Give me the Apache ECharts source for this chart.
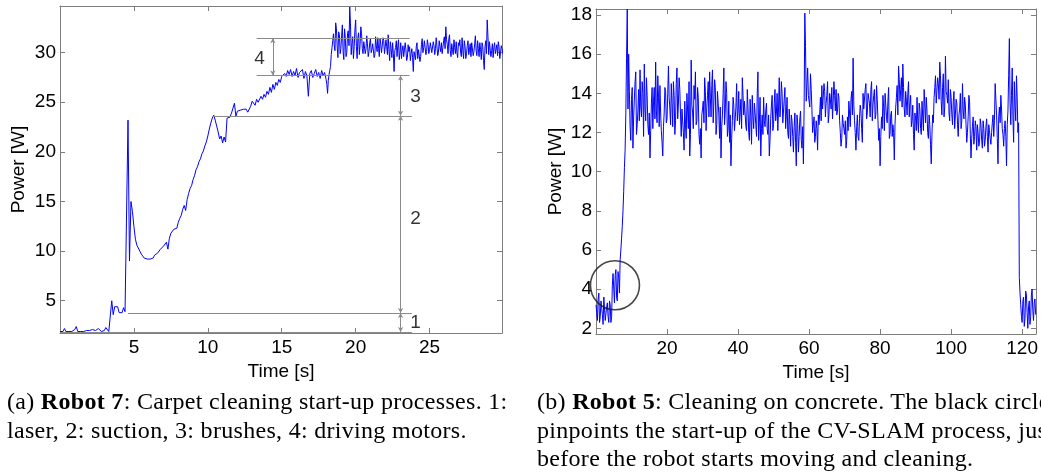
<!DOCTYPE html>
<html><head><meta charset="utf-8">
<script src="https://cdn.jsdelivr.net/npm/echarts@6/dist/echarts.min.js"></script>
<style>
html,body{margin:0;padding:0;background:#fff;overflow:hidden;width:1041px;height:475px;}
#chart{position:absolute;left:0;top:0;width:1041px;height:475px;}
.cap{position:absolute;font-family:"Liberation Serif",serif;font-size:24px;letter-spacing:0.3px;line-height:28.5px;color:#000;white-space:nowrap;}
</style></head><body>
<div id="chart"></div>
<div class="cap" style="left:7px;top:387px;">(a) <b>Robot 7</b>: Carpet cleaning start-up processes. 1:<br>laser, 2: suction, 3: brushes, 4: driving motors.</div>
<div class="cap" style="left:537px;top:387px;">(b) <b>Robot 5</b>: Cleaning on concrete. The black circle<br>pinpoints the start-up of the CV-SLAM process, just<br>before the robot starts moving and cleaning.</div>
<script>
// ---- Robot 7 (left): power [W], one sample every 0.1 s from t = 0 ----
const robot7Dt = 0.1;
const robot7Power = [
1.9,2.0,1.9,2.2,1.9,2.0,1.9,2.1,1.9,2.0,
2.1,2.4,1.9,2.0,1.9,2.1,1.9,1.9,2.0,1.9,
2.0,1.9,2.1,1.9,2.0,1.9,2.2,2.4,1.9,2.1,
2.0,2.3,2.5,1.9,2.0,5.0,3.6,4.4,4.2,4.4,
3.8,4.0,3.8,4.3,3.9,4.0,23.2,9.0,15.0,14.0,
12.5,11.2,10.6,10.4,10.0,9.7,9.6,9.3,9.4,9.2,
9.3,9.2,9.4,9.3,9.6,9.5,9.8,9.9,10.2,10.0,
10.5,10.6,10.9,10.2,11.3,11.8,11.6,12.2,12.4,12.3,
12.9,13.3,13.6,14.2,14.6,14.1,15.2,15.8,16.3,16.6,
17.2,17.6,18.2,18.5,19.0,19.3,19.8,20.1,20.6,21.0,
21.6,22.3,22.9,23.4,23.7,23.2,22.6,22.0,21.3,21.6,
20.9,21.5,21.0,23.4,23.6,23.5,23.9,23.7,24.9,23.6,
24.1,23.9,24.2,24.0,24.3,24.1,24.3,24.0,23.8,24.6,
25.1,24.9,24.7,25.3,25.0,25.2,25.6,25.3,25.8,25.5,
26.1,25.8,26.5,26.0,26.8,26.3,27.0,26.7,27.3,27.0,
27.6,27.4,27.9,27.6,28.2,27.8,28.3,27.6,28.1,27.7,
28.4,27.5,28.0,27.8,28.3,27.4,28.1,27.7,25.6,27.9,
28.2,27.5,27.9,28.3,27.6,28.0,27.4,28.2,27.7,28.0,
27.3,25.9,27.8,28.6,30.5,31.9,30.2,32.4,29.5,31.8,
30.4,32.8,29.3,31.5,30.0,32.2,34.6,29.8,31.6,30.6,
33.3,29.4,32.0,30.8,31.9,29.9,31.2,30.4,30.9,30.1,
31.4,30.3,31.0,29.8,30.7,31.5,29.6,30.8,30.2,31.2,
29.7,30.6,31.8,29.2,30.4,31.0,28.1,30.5,29.6,31.3,
30.0,29.4,30.7,29.8,30.3,29.5,30.1,29.2,30.4,28.1,
29.9,30.6,29.4,30.2,29.6,31.4,30.5,31.0,30.1,30.8,
30.3,31.2,29.9,30.7,30.4,31.3,30.0,30.6,31.0,30.5,
31.6,32.6,30.8,31.4,30.2,30.9,29.8,30.5,31.1,29.5,
30.7,30.0,31.5,29.4,30.6,29.9,31.2,30.3,29.6,30.8,
30.1,31.7,29.7,30.4,31.0,29.3,30.6,28.3,31.2,33.3,
29.8,30.9,30.2,29.5,31.0,30.1,29.7,30.6,30.0,30.4
];
// extra in-between samples of the noisy part (every 0.1 s from t = 18.05)
const robot7MidStart = 18.05;
const robot7PowerMid = [
26.8,27.2,28.2,29.8,31.2,30.8,33.0,30.6,32.1,29.9,
31.7,30.1,32.4,29.6,31.9,30.7,32.9,30.9,29.4,32.3,
30.6,31.5,29.8,32.6,30.4,31.1,29.9,31.7,29.6,31.0,
30.0,30.9,29.5,31.6,30.1,30.4,31.4,30.0,31.5,29.9,
31.3,29.8,30.3,31.1,29.5,29.9,30.2,31.2,30.7,29.3,
31.0,30.2,29.6,31.0,29.2,30.8,30.6,29.9,29.5,30.1,
29.3,31.0,30.3,29.1,30.8,30.0,31.2,29.8,31.3,29.9,
31.0,30.0,31.1,29.8,31.5,29.7,31.2,30.1,29.9,31.2,
30.4,31.3,29.9,31.8,29.6,30.3,31.3,29.9,30.0,31.0,
31.3,29.6,30.2,31.2,29.4,30.7,29.8,30.9,31.0,29.7,
30.9,30.2,31.2,29.6,30.3,31.0,29.2,30.6,29.9,31.6,
31.1,29.6,30.9,30.5,29.9,30.8,31.1,29.4,30.7,29.9
];
const robot7XTicks = [5, 10, 15, 20, 25];
const robot7YTicks = [5, 10, 15, 20, 25, 30];
// annotation levels: horizontal [t1, P, t2, P]
const robot7Levels = [
  [0, 1.85, 23.8, 1.85],
  [4.6, 3.76, 23.8, 3.76],
  [10.35, 23.63, 23.8, 23.63],
  [13.3, 27.69, 23.65, 27.69],
  [13.3, 31.45, 23.65, 31.45]
];
// annotation arrows: [t, P from, P to]
const robot7Arrows = [
  [23.04, 1.85, 3.76],
  [23.04, 3.76, 23.63],
  [23.04, 23.63, 27.69],
  [14.4, 27.69, 31.45]
];
// annotation numbers: [t, P, text]
const robot7Labels = [
  [13.5, 29.4, '4'],
  [24.05, 25.6, '3'],
  [24.05, 13.25, '2'],
  [24.05, 2.8, '1']
];

// ---- Robot 5 (right): power [W], one sample every 0.4 s from t = 0 ----
const robot5Dt = 0.4;
const robot5Power = [
3.2,2.4,3.8,2.6,3.3,2.2,3.5,2.5,3.3,2.3,
3.2,2.6,4.8,3.3,5.0,3.4,4.6,5.5,6.6,8.0,
10.2,13.0,18.3,16.0,12.3,13.7,11.2,12.9,15.1,12.4,
14.2,15.2,12.8,14.0,15.5,12.6,13.9,11.9,10.7,13.5,
12.2,14.3,15.6,12.5,13.8,14.4,12.1,10.8,13.0,14.1,
12.7,15.4,13.2,14.5,12.3,13.9,12.6,15.3,13.4,14.2,
11.8,13.1,11.1,12.4,14.0,12.2,10.8,15.7,13.0,14.4,
15.1,12.6,13.8,11.4,10.7,13.2,12.5,14.1,13.3,14.6,
15.1,12.8,15.2,13.6,14.3,12.4,13.5,11.7,10.7,12.9,
15.3,13.1,14.0,12.2,11.5,10.3,12.6,13.4,12.0,14.5,
13.1,12.4,13.7,14.8,12.9,13.6,12.1,13.3,11.6,12.8,
13.9,12.2,13.0,11.8,15.1,12.5,10.8,12.9,13.8,12.3,
13.5,11.9,10.8,12.7,13.9,12.4,14.2,13.0,12.1,14.8,
13.4,14.0,13.1,14.3,12.9,12.0,13.2,11.3,12.6,11.0,
13.0,10.3,12.4,11.8,13.1,11.2,10.4,18.1,13.6,15.3,
14.0,15.0,13.2,12.1,11.5,12.6,11.1,12.4,13.8,14.4,
13.2,14.1,13.5,14.6,12.9,13.7,14.3,12.8,13.9,14.2,
13.1,13.8,12.0,11.7,12.5,11.9,11.2,12.8,13.6,12.3,
14.1,15.8,12.6,11.1,12.9,11.6,13.4,12.2,14.0,13.3,
14.5,13.0,13.9,12.8,14.6,13.4,14.2,12.9,13.7,11.6,
10.3,12.8,13.9,12.1,13.4,12.5,14.3,11.9,13.1,12.4,
10.6,13.3,14.4,15.4,13.6,14.8,15.5,13.2,14.1,12.9,
14.6,13.5,12.3,13.4,11.1,12.7,13.8,12.0,13.2,11.9,
12.8,14.2,12.5,13.1,11.7,12.4,10.4,12.9,13.8,14.9,
13.4,14.5,15.6,13.6,14.3,12.8,15.9,13.9,14.7,12.6,
13.8,12.4,14.1,12.9,13.5,11.8,13.2,12.2,14.5,12.7,
13.4,11.5,12.8,13.6,10.7,12.3,11.4,12.6,11.1,12.0,
11.5,12.4,11.2,12.2,11.6,12.7,11.0,12.1,11.4,12.5,
11.8,14.5,12.9,10.4,13.3,13.9,12.2,11.3,12.6,10.3,
13.1,16.8,12.4,15.3,11.5,13.4,14.9,12.0,4.6,3.2,
2.3,3.6,2.5,3.7,2.0,3.4,2.6,4.0,2.4,3.5
];
// in-between samples (every 0.4 s from t = 0.2)
const robot5MidStart = 0.2;
const robot5PowerMid = [
2.8,3.5,2.3,3.4,2.7,3.6,2.4,3.1,2.6,3.4,
2.3,4.2,4.0,4.7,3.6,4.9,3.8,6.0,7.2,9.0,
11.1,15.8,13.2,14.1,11.6,14.3,12.8,14.6,11.9,13.1,
12.6,13.3,14.6,11.8,13.2,14.8,12.4,13.0,12.1,14.3,
13.6,12.7,13.1,14.9,12.3,13.0,11.5,12.3,14.3,12.5,
14.0,13.8,12.4,13.5,14.6,11.9,14.5,12.7,14.8,12.9,
13.2,12.0,13.6,11.7,13.1,14.6,11.9,13.4,12.2,13.7,
12.4,14.3,11.9,12.2,12.9,13.6,14.8,12.1,13.9,12.8,
13.8,14.4,12.5,14.7,11.9,14.1,12.9,13.3,12.3,14.0,
12.4,14.6,11.8,13.6,12.9,11.7,13.8,12.1,13.3,12.6,
14.1,13.0,12.2,13.9,13.6,12.3,14.2,12.0,13.7,11.4,
12.8,13.5,12.4,14.0,11.6,13.8,12.2,11.9,12.6,13.1,
12.2,12.9,11.6,13.4,12.1,13.5,12.6,14.0,13.3,12.8,
14.6,12.5,13.7,12.2,13.8,11.7,12.4,12.9,11.8,12.3,
11.5,12.9,11.0,12.7,11.6,12.3,13.2,16.4,14.5,13.9,
13.3,14.2,12.0,12.8,11.8,12.2,12.9,13.0,12.6,13.2,
14.5,12.8,13.9,12.5,14.0,13.2,12.7,14.6,13.1,12.9,
14.0,12.6,11.3,12.9,12.2,12.6,11.6,12.1,13.0,13.7,
12.9,13.4,12.0,12.3,11.8,12.7,13.1,11.5,13.2,14.2,
12.7,14.0,13.5,14.2,12.6,13.9,12.7,14.4,12.6,12.2,
11.8,12.2,13.3,14.0,12.8,13.6,11.7,12.9,11.8,12.0,
12.4,13.8,12.9,14.7,14.2,13.3,14.3,12.8,13.6,14.0,
12.8,13.9,12.6,11.9,13.0,12.1,12.6,13.5,12.2,13.6,
12.1,13.4,13.8,12.0,12.9,11.4,11.9,12.5,14.3,13.5,
14.8,13.7,14.9,12.9,15.0,13.3,14.1,13.5,13.0,14.2,
12.9,13.6,12.2,13.7,12.4,12.9,14.0,12.6,13.1,13.8,
12.4,12.0,13.9,11.9,11.7,12.8,11.8,12.3,12.4,11.3,
12.7,11.6,12.6,11.3,12.3,11.8,12.4,11.7,12.0,12.9,
12.6,13.7,11.7,12.8,12.5,13.2,11.9,12.2,11.8,12.4,
14.9,13.5,13.9,12.8,14.6,12.6,13.8,12.5,3.8,2.6,
3.4,2.1,3.9,2.8,3.1,2.2,3.7,2.9,3.3,2.7
];
const robot5XTicks = [20, 40, 60, 80, 100, 120];
const robot5YTicks = [2, 4, 6, 8, 10, 12, 14, 16, 18];
const robot5Circle = [[5.34, 4.2]];

// ---- build sorted sample lists ----
function samples(main, dt, mid, midStart) {
  const pts = main.map((v, i) => [i * dt, v]);
  mid.forEach((v, i) => pts.push([midStart + i * dt, v]));
  pts.sort((a, b) => a[0] - b[0]);
  return pts;
}
const robot7Data = samples(robot7Power, robot7Dt, robot7PowerMid, robot7MidStart);
const robot5Data = samples(robot5Power, robot5Dt, robot5PowerMid, robot5MidStart);

// ---- styling ----
const axisGray = '#7d7d7d';
const fontFam = '"Liberation Sans", Arial, sans-serif';

function xAxisDef(gridIndex, min, max, ticks, top, name) {
  return {
    type: 'value', gridIndex, min, max,
    position: top ? 'top' : 'bottom',
    axisLine: { show: true, onZero: false, lineStyle: { color: axisGray, width: 1 } },
    axisTick: { show: true, inside: true, length: 5, customValues: ticks, lineStyle: { color: axisGray } },
    axisLabel: top ? { show: false } : { show: true, customValues: ticks, color: '#000', fontSize: 19, fontFamily: fontFam, margin: 5 },
    splitLine: { show: false },
    name: top ? '' : name,
    nameLocation: 'middle', nameGap: 23,
    nameTextStyle: { color: '#000', fontSize: 19, fontFamily: fontFam }
  };
}
function yAxisDef(gridIndex, min, max, ticks, right, name, gap) {
  return {
    type: 'value', gridIndex, min, max,
    position: right ? 'right' : 'left',
    axisLine: { show: true, onZero: false, lineStyle: { color: axisGray, width: 1 } },
    axisTick: { show: true, inside: true, length: 5, customValues: ticks, lineStyle: { color: axisGray } },
    axisLabel: right ? { show: false } : { show: true, customValues: ticks, color: '#000', fontSize: 19, fontFamily: fontFam, margin: 4 },
    splitLine: { show: false },
    name: right ? '' : name,
    nameLocation: 'middle', nameGap: gap, nameRotate: 90,
    nameTextStyle: { color: '#000', fontSize: 19, fontFamily: fontFam }
  };
}

const chart = echarts.init(document.getElementById('chart'), null, { renderer: 'canvas' });
const markData = robot7Levels.map(a => [{ coord: [a[0], a[1]] }, { coord: [a[2], a[3]] }])
  .concat(robot7Arrows.map(a => [{ coord: [a[0], a[1]], symbol: 'arrow' }, { coord: [a[0], a[2]], symbol: 'arrow' }]));

chart.setOption({
  animation: false,
  backgroundColor: '#fff',
  grid: [
    { left: 60, top: 6, width: 442, height: 327 },
    { left: 596, top: 9, width: 441, height: 325 }
  ],
  xAxis: [
    xAxisDef(0, 0, 29.9, robot7XTicks, false, 'Time [s]'),
    xAxisDef(0, 0, 29.9, robot7XTicks, true, ''),
    xAxisDef(1, 0, 123.9, robot5XTicks, false, 'Time [s]'),
    xAxisDef(1, 0, 123.9, robot5XTicks, true, '')
  ],
  yAxis: [
    yAxisDef(0, 1.75, 34.7, robot7YTicks, false, 'Power [W]', 32),
    yAxisDef(0, 1.75, 34.7, robot7YTicks, true, '', 0),
    yAxisDef(1, 1.71, 18.31, robot5YTicks, false, 'Power [W]', 31),
    yAxisDef(1, 1.71, 18.31, robot5YTicks, true, '', 0)
  ],
  series: [
    {
      type: 'line', xAxisIndex: 0, yAxisIndex: 0,
      data: robot7Data,
      showSymbol: false, symbol: 'none',
      lineStyle: { color: '#0000ff', width: 1 },
      z: 3,
      markLine: {
        silent: true, animation: false,
        symbol: ['none', 'none'], symbolSize: [4, 5],
        lineStyle: { color: '#8a8a8a', width: 1, type: 'solid' },
        label: { show: false },
        emphasis: { disabled: true },
        data: markData
      }
    },
    {
      type: 'scatter', xAxisIndex: 0, yAxisIndex: 0,
      data: robot7Labels, symbolSize: 0, silent: true,
      label: { show: true, position: 'inside', formatter: p => p.data[2], color: '#000', fontSize: 19, fontFamily: fontFam }
    },
    {
      type: 'line', xAxisIndex: 2, yAxisIndex: 2,
      data: robot5Data,
      showSymbol: false, symbol: 'none',
      lineStyle: { color: '#0000ff', width: 1 },
      z: 3
    },
    {
      type: 'scatter', xAxisIndex: 2, yAxisIndex: 2,
      data: robot5Circle, symbol: 'circle', symbolSize: 49, silent: true, z: 4,
      itemStyle: { color: 'rgba(0,0,0,0)', borderColor: '#1a1a1a', borderWidth: 1.6 }
    }
  ]
});
</script>
</body></html>
